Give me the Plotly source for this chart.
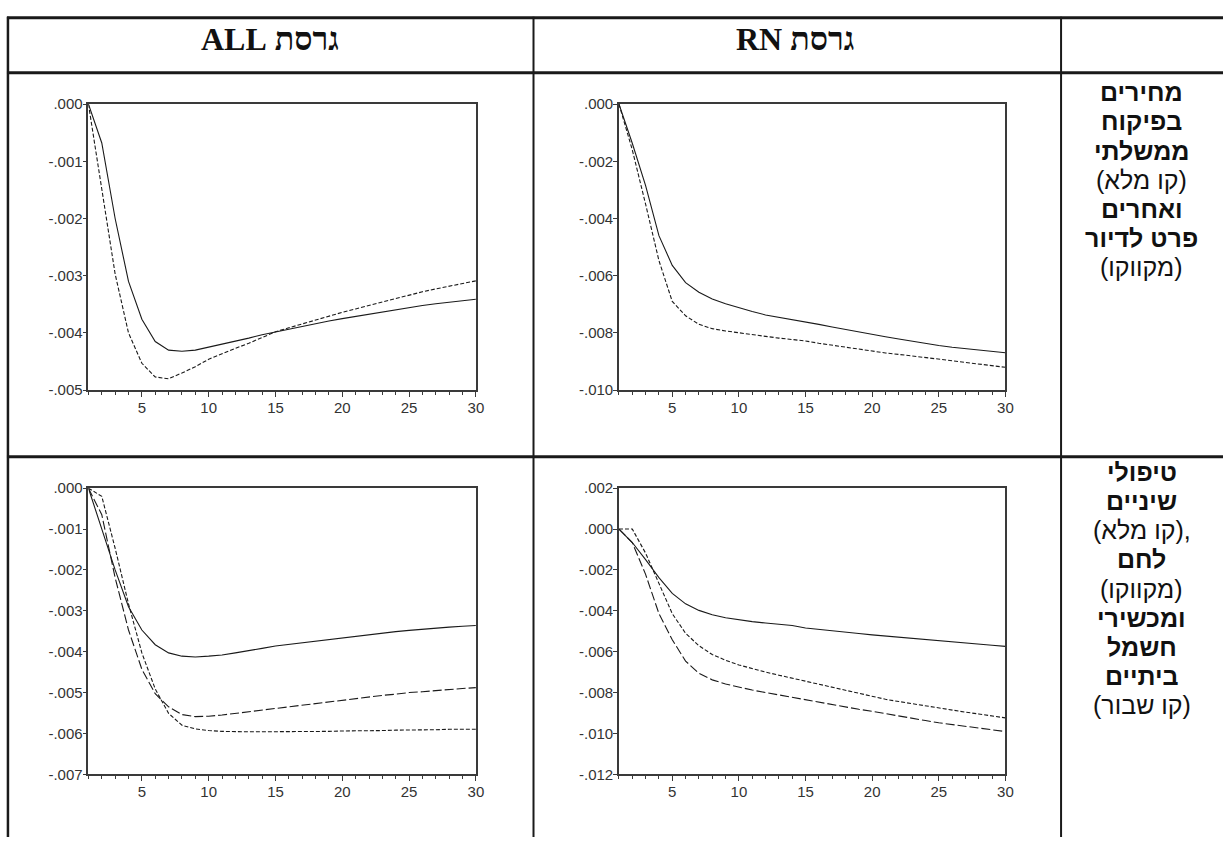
import plotly.graph_objects as go

W, H = 1231, 845

# Horizon (periods 1..30)
periods = list(range(1, 31))

# ALL version: government-controlled prices (solid) vs. other non-housing prices (dashed)
all_gov = [0, -0.00068, -0.0020, -0.0031, -0.00376, -0.00415, -0.0043, -0.00432, -0.0043, -0.00425,
           -0.0042, -0.00414, -0.00409, -0.00403, -0.00398, -0.00393, -0.00388, -0.00384, -0.00379, -0.00375,
           -0.00371, -0.00367, -0.00363, -0.00359, -0.00355, -0.00352, -0.00349, -0.00346, -0.00343, -0.00341]
all_other = [0, -0.0015, -0.00297, -0.0040, -0.00453, -0.00477, -0.0048, -0.0047, -0.00459, -0.00446,
             -0.00436, -0.00427, -0.00418, -0.00408, -0.00398, -0.00391, -0.00384, -0.00377, -0.0037, -0.00364,
             -0.00358, -0.00352, -0.00346, -0.00339, -0.00333, -0.00328, -0.00323, -0.00318, -0.00313, -0.00309]

# RN version: same two groups
rn_gov = [0, -0.00137, -0.00285, -0.0046, -0.00564, -0.00624, -0.00658, -0.00681, -0.00698, -0.00712,
          -0.00725, -0.00737, -0.00745, -0.00752, -0.00761, -0.0077, -0.00779, -0.00788, -0.00797, -0.00805,
          -0.00813, -0.00821, -0.00829, -0.00836, -0.00844, -0.0085, -0.00855, -0.0086, -0.00865, -0.00869]
rn_other = [0, -0.0016, -0.0035, -0.00547, -0.0069, -0.0074, -0.0077, -0.00785, -0.00793, -0.008,
            -0.00806, -0.00812, -0.00818, -0.00823, -0.00828, -0.00836, -0.00843, -0.0085, -0.00857, -0.00864,
            -0.0087, -0.00875, -0.0088, -0.00886, -0.00891, -0.00897, -0.00903, -0.00909, -0.00915, -0.0092]

# ALL version: dental care (solid), bread (short dash), home appliances (long dash)
all_dental = [0, -0.001, -0.002, -0.0029, -0.00347, -0.00383, -0.00403, -0.00411, -0.00413, -0.00411,
              -0.00408, -0.00403, -0.00398, -0.00392, -0.00386, -0.00382, -0.00378, -0.00374, -0.0037, -0.00366,
              -0.00362, -0.00359, -0.00355, -0.00351, -0.00348, -0.00345, -0.00343, -0.0034, -0.00338, -0.00336]
all_bread = [0, -0.0002, -0.00147, -0.00283, -0.00403, -0.00491, -0.00551, -0.0058, -0.00589, -0.00593,
             -0.00595, -0.00596, -0.00596, -0.00596, -0.00596, -0.00596, -0.00596, -0.00595, -0.00595, -0.00594,
             -0.00594, -0.00593, -0.00593, -0.00592, -0.00592, -0.00591, -0.00591, -0.0059, -0.0059, -0.0059]
all_appl = [0, -0.00065, -0.00219, -0.00347, -0.00443, -0.00503, -0.00535, -0.00554, -0.00559, -0.00558,
            -0.00555, -0.00551, -0.00547, -0.00542, -0.00538, -0.00534, -0.0053, -0.00526, -0.00522, -0.00518,
            -0.00514, -0.00511, -0.00507, -0.00504, -0.005, -0.00498, -0.00495, -0.00493, -0.0049, -0.00488]

# RN version: dental care, bread, home appliances
rn_dental = [0, -0.00066, -0.0015, -0.00238, -0.00315, -0.00366, -0.00398, -0.00419, -0.00434, -0.00445,
             -0.00453, -0.0046, -0.00467, -0.00472, -0.00484, -0.0049, -0.00497, -0.00503, -0.00511, -0.00518,
             -0.00524, -0.0053, -0.00536, -0.00541, -0.00547, -0.00552, -0.00558, -0.00563, -0.00569, -0.00574]
rn_bread = [0, 0, -0.00118, -0.0027, -0.00414, -0.0051, -0.00571, -0.00614, -0.00642, -0.00665,
            -0.00683, -0.007, -0.00715, -0.0073, -0.00745, -0.00761, -0.00776, -0.0079, -0.00806, -0.00821,
            -0.00833, -0.00844, -0.00855, -0.00866, -0.00876, -0.00886, -0.00896, -0.00905, -0.00915, -0.00924]
rn_appl = [0, -0.00066, -0.00222, -0.00414, -0.00542, -0.00646, -0.00706, -0.00738, -0.00758, -0.00774,
           -0.00788, -0.008, -0.00812, -0.00823, -0.00833, -0.00846, -0.00859, -0.00871, -0.00882, -0.00892,
           -0.00904, -0.00915, -0.00926, -0.00937, -0.00948, -0.00957, -0.00966, -0.00974, -0.00983, -0.00991]

# Y-axis ticks per panel
ticks_tl = [0, -0.001, -0.002, -0.003, -0.004, -0.005]
ticks_tr = [0, -0.002, -0.004, -0.006, -0.008, -0.010]
ticks_bl = [0, -0.001, -0.002, -0.003, -0.004, -0.005, -0.006, -0.007]
ticks_br = [0.002, 0, -0.002, -0.004, -0.006, -0.008, -0.010, -0.012]
x_ticks = [5, 10, 15, 20, 25, 30]

col_headers = ["גרסת ALL", "גרסת RN"]
row1_label = [("מחירים", True), ("בפיקוח", True), ("ממשלתי", True), ("(קו מלא)", False),
              ("ואחרים", True), ("פרט לדיור", True), ("(מקווקו)", False)]
row2_label = [("טיפולי", True), ("שיניים", True), ("(קו מלא),", False), ("לחם", True),
              ("(מקווקו)", False), ("ומכשירי", True), ("חשמל", True), ("ביתיים", True), ("(קו שבור)", False)]


def fmt(v):
    s = f"{v:.3f}"
    return s.replace("0.", ".", 1)


def px_x(p):
    return p / W


def px_y(p):
    return 1 - p / H


SOLID = "solid"
SHORT = "4px,2px"
LONG = "9px,3px"
LINE_COL = "#1a1a1a"

panels = [
    # (axis suffix, x px range, y px range, y range, ticks, series)
    ("", (89, 479), (97, 389), (-0.005, 0), ticks_tl, [(all_gov, SOLID), (all_other, SHORT)]),
    ("2", (623, 1012), (97, 389), (-0.010, 0), ticks_tr, [(rn_gov, SOLID), (rn_other, SHORT)]),
    ("3", (89, 479), (489, 781), (-0.007, 0), ticks_bl, [(all_dental, SOLID), (all_bread, SHORT), (all_appl, LONG)]),
    ("4", (623, 1012), (489, 781), (-0.012, 0.002), ticks_br, [(rn_dental, SOLID), (rn_bread, SHORT), (rn_appl, LONG)]),
]

fig = go.Figure()
layout = dict(
    width=W, height=H, autosize=False,
    margin=dict(l=0, r=0, t=0, b=0),
    paper_bgcolor="white", plot_bgcolor="white",
    showlegend=False,
)

AX_COL = "#3a3a3a"
TICK_FONT = dict(family="Liberation Sans, Arial", size=15, color="#333")
for suf, (x0, x1), (y0, y1), yr, yt, series in panels:
    xa = "xaxis" + suf
    ya = "yaxis" + suf
    for vals, dash in series:
        fig.add_trace(go.Scatter(
            x=periods, y=vals, mode="lines",
            line=dict(color=LINE_COL, width=1.1, dash=dash),
            xaxis="x" + suf, yaxis="y" + suf, hoverinfo="skip",
        ))
    layout[xa] = dict(
        domain=[px_x(x0), px_x(x1)], anchor="y" + suf, range=[1, 30],
        showgrid=False, zeroline=False, showline=True, mirror=True,
        linecolor=AX_COL, linewidth=1.5,
        ticks="outside", ticklen=5, tickwidth=1, tickcolor=AX_COL,
        tickvals=x_ticks, ticktext=[str(t) for t in x_ticks],
        tickfont=TICK_FONT, ticklabelstandoff=-2,
        minor=dict(dtick=1, tick0=1, ticks="outside", ticklen=3, tickwidth=1, tickcolor=AX_COL),
    )
    layout[ya] = dict(
        domain=[px_y(y1), px_y(y0)], anchor="x" + suf, range=list(yr),
        showgrid=False, zeroline=False, showline=True, mirror=True,
        linecolor=AX_COL, linewidth=1.5,
        ticks="outside", ticklen=4, tickwidth=1, tickcolor=AX_COL,
        tickvals=yt, ticktext=[fmt(t) for t in yt],
        tickfont=TICK_FONT, ticklabelstandoff=-3,
    )

# Table grid
shapes = []


def hline(y, x0, x1, w):
    shapes.append(dict(type="line", xref="paper", yref="paper",
                       x0=px_x(x0), x1=px_x(x1), y0=px_y(y), y1=px_y(y),
                       line=dict(color="#1a1a1a", width=w)))


def vline(x, y0, y1, w):
    shapes.append(dict(type="line", xref="paper", yref="paper",
                       x0=px_x(x), x1=px_x(x), y0=px_y(y0), y1=px_y(y1),
                       line=dict(color="#1a1a1a", width=w)))


hline(9, 7, W, 3)
hline(65, 7, W, 3)
hline(457, 7, W, 3)
vline(8, 8, H, 2.5)
vline(537, 8, H, 2)
vline(1068, 8, H, 2)
layout["shapes"] = shapes

annotations = []
RLE, PDF = "\u202b", "\u202c"
for cx, txt in zip([272, 800], col_headers):
    annotations.append(dict(
        x=px_x(cx), y=px_y(31), xref="paper", yref="paper", showarrow=False,
        text="<b>" + RLE + txt + PDF + "</b>", xanchor="center", yanchor="middle",
        font=dict(family="Liberation Serif, Times New Roman", size=32, color="#111"),
    ))


def label_block(lines, y_first, step):
    for i, (txt, bold) in enumerate(lines):
        annotations.append(dict(
            x=px_x(1149), y=px_y(y_first + i * step), xref="paper", yref="paper",
            showarrow=False, xanchor="center", yanchor="middle",
            text=("<b>" + txt + "</b>") if bold else txt,
            font=dict(family="Liberation Sans, DejaVu Sans, Arial", size=25, color="#111"),
        ))


label_block(row1_label, 85, 29.8)
label_block(row2_label, 473, 29.6)
layout["annotations"] = annotations

fig.update_layout(**layout)
fig.write_html("out.html")
